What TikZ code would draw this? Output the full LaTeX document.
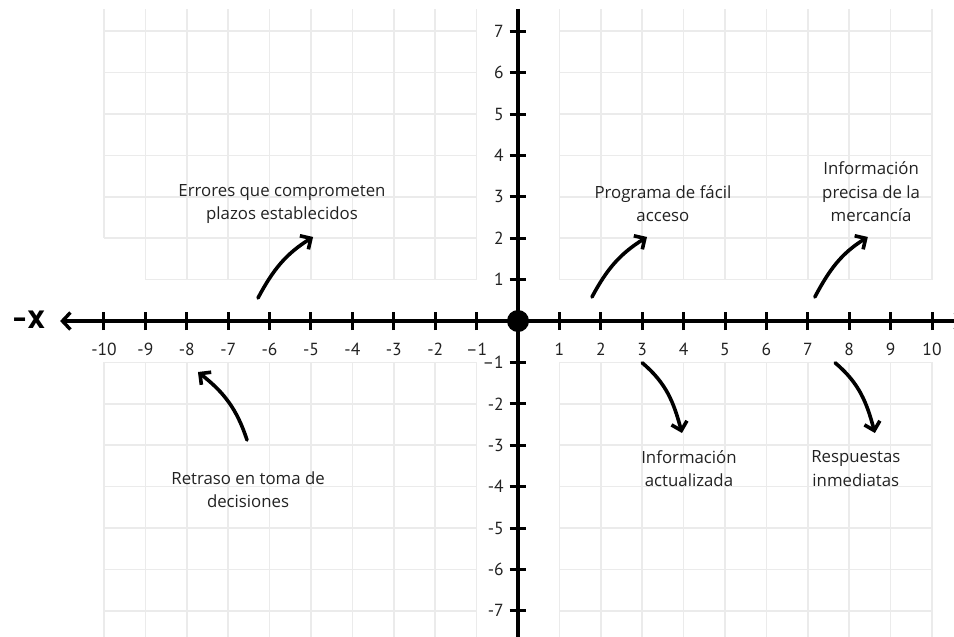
\documentclass[tikz,border=0pt]{standalone}
\usepackage{fontspec}
\setmainfont{Open Sans}
\newfontfamily\numfont{PT Sans}
\newfontfamily\axfont{Poppins}
\usetikzlibrary{arrows.meta}
\definecolor{gridc}{HTML}{EBEBEB}
\definecolor{txt}{HTML}{222222}
\begin{document}
\begin{tikzpicture}[x=41.4pt,y=41.4pt,
  gridline/.style={gridc, line width=1.5pt, step=1},
  axisline/.style={line width=3.6pt, black},
  tickmark/.style={line width=3pt, black},
  curvearrow/.style={line width=3.6pt, line cap=round, -{Straight Barb[length=8pt,width=16pt,line width=3.6pt]}},
  caption/.style={font=\fontsize{16.8}{23.5}\selectfont, text=txt, align=center, inner sep=0pt},
  numlab/.style={font=\numfont\fontsize{17.5}{17.5}\selectfont, text=txt, inner sep=0pt}]
\useasboundingbox (-12.512,-7.609) rectangle (10.531,7.754);
% grid
\draw[gridline] (-10,2) grid (-1,7.54);
\draw[gridline] (-9,1) grid (-1,2);
\draw[gridline] (1,1) grid (10,7.54);
\draw[gridline] (-10,-7.7) grid (-1,-1);
\draw[gridline] (1,-7.7) grid (10,-1);
% axes
\coordinate (xl) at (-11.06,0);
\coordinate (xr) at (10.8,0);
\coordinate (yt) at (0,7.54);
\coordinate (yb) at (0,-7.7);
\draw[axisline, {Straight Barb[length=8pt,width=17pt,line width=3.4pt]}-{Straight Barb[length=8pt,width=17pt,line width=3.4pt]}] (xl) -- (xr);
\draw[axisline] (yt) -- (yb);
% ticks and labels
\foreach \x/\l in {-10/-10,-9/-9,-8/-8,-7/-7,-6/-6,-5/-5,-4/-4,-3/-3,-2/-2,-1/–1,1/1,2/2,3/3,4/4,5/5,6/6,7/7,8/8,9/9,10/10}{
  \draw[tickmark] (\x,-0.22) -- (\x,0.22);
  \node[numlab] (xlab\x) at (\x,-0.68) {\l};
}
\foreach \y/\l in {-7/-7,-6/-6,-5/-5,-4/-4,-3/-3,-2/-2,-1/–1,1/1,2/2,3/3,4/4,5/5,6/6,7/7}{
  \draw[tickmark] (-0.2,\y) -- (0.2,\y);
  \node[numlab, anchor=east] (ylab\y) at (-0.34,\y) {\l};
}
\fill (0,0) circle (11pt);
\node[font=\axfont\bfseries\fontsize{25}{25}\selectfont, inner sep=0pt] (xneg) at (-11.81,0.02) {-X};
% captions
\node[caption] (c1) at (-5.70,2.83) {Errores que comprometen\\plazos establecidos};
\node[caption] (c2) at (3.50,2.83) {Programa de fácil\\acceso};
\node[caption] (c3) at (8.53,3.12) {Información\\precisa de la\\mercancía};
\node[caption] (c4) at (-6.52,-4.08) {Retraso en toma de\\decisiones};
\node[caption] (c5) at (4.13,-3.57) {Información\\actualizada};
\node[caption] (c6) at (8.16,-3.57) {Respuestas\\inmediatas};
% arrows
\coordinate (a1s) at (-6.28,0.556); \coordinate (a1e) at (-4.95,2.03);
\coordinate (a2s) at (1.787,0.58);  \coordinate (a2e) at (3.116,2.03);
\coordinate (a3s) at (7.17,0.58);   \coordinate (a3e) at (8.45,2.03);
\coordinate (a4s) at (-6.546,-2.874); \coordinate (a4e) at (-7.73,-1.232);
\coordinate (a5s) at (3.0,-1.01);   \coordinate (a5e) at (3.96,-2.705);
\coordinate (a6s) at (7.66,-1.01);  \coordinate (a6e) at (8.62,-2.705);
\draw[curvearrow] (a1s) to[out=62,in=212] (a1e);
\draw[curvearrow] (a2s) to[out=62,in=212] (a2e);
\draw[curvearrow] (a3s) to[out=62,in=212] (a3e);
\draw[curvearrow] (a4s) to[out=108,in=-38] (a4e);
\draw[curvearrow] (a5s) to[out=-40,in=105] (a5e);
\draw[curvearrow] (a6s) to[out=-40,in=105] (a6e);
\end{tikzpicture}
\end{document}
